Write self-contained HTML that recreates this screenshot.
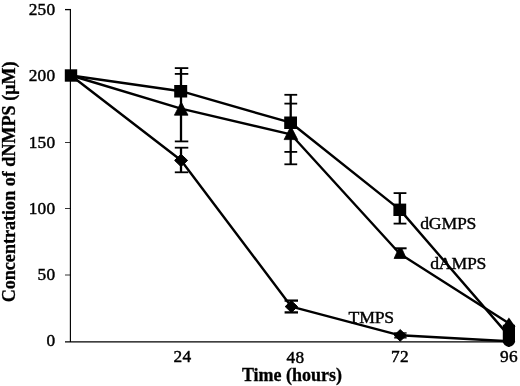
<!DOCTYPE html>
<html><head><meta charset="utf-8">
<style>
html,body{margin:0;padding:0;background:#fff;}
body{width:520px;height:386px;overflow:hidden;position:relative;font-family:"Liberation Serif",serif;}
svg{position:absolute;left:0;top:0;will-change:transform;}
text{font-family:"Liberation Serif",serif;fill:#000;}
.t{font-size:17.3px;letter-spacing:0.25px;stroke:#000;stroke-width:0.45px;}
.l{font-size:17.7px;letter-spacing:-0.2px;stroke:#000;stroke-width:0.4px;}
.b{font-size:18px;font-weight:bold;stroke:#000;stroke-width:0.3px;}
</style></head><body>
<svg width="520" height="386" viewBox="0 0 520 386">
<rect width="520" height="386" fill="#fff"/>
<!-- axes -->
<g stroke="#000" stroke-width="1.3" fill="none">
<line x1="70.4" y1="9" x2="70.4" y2="342" stroke-width="1.15"/>
<line x1="65" y1="341.8" x2="510" y2="341.8"/>
<line x1="65" y1="9.6" x2="71" y2="9.6"/>
<line x1="65" y1="76" x2="71" y2="76" stroke-width="0.8"/>
<line x1="65" y1="142.5" x2="71" y2="142.5" stroke-width="0.8"/>
<line x1="65" y1="208.5" x2="71" y2="208.5" stroke-width="0.8"/>
<line x1="65" y1="275" x2="71" y2="275" stroke-width="0.8"/>
</g>
<!-- series lines -->
<g stroke="#000" stroke-width="2.4" fill="none" stroke-linejoin="round">
<polyline points="71,75.5 181,91.2 290.8,122.7 399.8,209.6 508.8,335.6"/>
<polyline points="71,75.5 181,108.6 290.8,134.3 399.8,253.8 508.8,323.2"/>
<polyline points="71,75.5 181,160.2 291.4,306.7 400,335.3 508.8,341.3"/>
</g>
<!-- error bars -->
<g stroke="#000" stroke-width="1.8" fill="none">
<!-- 24 dGMPS / dAMPS -->
<line x1="181" y1="68" x2="181" y2="141.4" stroke-width="2.3"/>
<line x1="174.8" y1="68.1" x2="188.3" y2="68.1"/>
<line x1="174.8" y1="73.9" x2="188.3" y2="73.9"/>
<line x1="174.8" y1="141.4" x2="188.3" y2="141.4"/>
<!-- 24 TMPS -->
<line x1="181" y1="147.7" x2="181" y2="172.3" stroke-width="2.3"/>
<line x1="174.8" y1="147.7" x2="188.3" y2="147.7"/>
<line x1="174.8" y1="172.3" x2="188.3" y2="172.3"/>
<!-- 48 -->
<line x1="290.7" y1="94.4" x2="290.7" y2="164.3" stroke-width="2.3"/>
<line x1="284.4" y1="94.8" x2="297.2" y2="94.8"/>
<line x1="284.4" y1="103.6" x2="297.2" y2="103.6"/>
<line x1="284.4" y1="151.9" x2="297.2" y2="151.9"/>
<line x1="284.4" y1="164.3" x2="297.2" y2="164.3"/>
<!-- 48 TMPS -->
<line x1="291.4" y1="300.6" x2="291.4" y2="312.4" stroke-width="2.3"/>
<line x1="284.6" y1="300.6" x2="298" y2="300.6" stroke-width="2.3"/>
<line x1="284.6" y1="312.4" x2="298" y2="312.4" stroke-width="2.3"/>
<!-- 72 dGMPS -->
<line x1="399.8" y1="193.1" x2="399.8" y2="223.6" stroke-width="2.3"/>
<line x1="393.6" y1="193.1" x2="406.4" y2="193.1"/>
<line x1="393.6" y1="223.6" x2="406.4" y2="223.6"/>
<!-- 72 TMPS -->
<line x1="394.2" y1="333" x2="406.6" y2="333" stroke-width="1.4"/>
<line x1="394.2" y1="337.8" x2="406.6" y2="337.8" stroke-width="1.4"/>
<!-- 72 dAMPS -->
<line x1="399.8" y1="248.5" x2="399.8" y2="258" stroke-width="2.3"/>
<line x1="394.2" y1="248.3" x2="406.6" y2="248.3" stroke-width="2"/>
</g>
<!-- markers -->
<g fill="#000" stroke="none">
<!-- squares -->
<rect x="64.8" y="69.3" width="12.4" height="12.4"/>
<rect x="174.2" y="85" width="13" height="12.5"/>
<rect x="284.2" y="116.5" width="12.8" height="12.5"/>
<rect x="393.4" y="203.6" width="12.8" height="12.4"/>
<path d="M502.8,324.8 h12.2 v16.2 a6.1,5.8 0 0 1 -12.2,0 z"/>
<!-- triangles -->
<polygon points="181.2,102 188,115.2 174.4,115.2" stroke="#000" stroke-width="0.8" stroke-linejoin="round"/>
<polygon points="290.9,126.3 297.7,139.6 284.1,139.6" stroke="#000" stroke-width="0.8" stroke-linejoin="round"/>
<polygon points="398.6,248.5 401.8,248.5 406.3,258.5 394.1,258.5" stroke="#000" stroke-width="0.8" stroke-linejoin="round"/>
<polygon points="508.9,317.6 515.6,327 502.6,327"/>
<!-- diamonds -->
<polygon points="181,154.2 187.6,160.4 181,166.6 174.6,160.4" stroke="#000" stroke-width="1" stroke-linejoin="round"/>
<polygon points="291.4,300.8 297.6,306.6 291.4,312.4 285.2,306.6" stroke="#000" stroke-width="1" stroke-linejoin="round"/>
<polygon points="400.2,329.6 406.3,335.4 400.2,341.2 394.1,335.4" stroke="#000" stroke-width="1" stroke-linejoin="round"/>
<polygon points="508.8,336.3 514,341.3 508.8,345.8 503.6,341.3" stroke="#000" stroke-width="2.2" stroke-linejoin="round"/>
</g>
<!-- tick labels -->
<g class="t">
<text x="55.4" y="14.8" text-anchor="end">250</text>
<text x="55.4" y="81.2" text-anchor="end">200</text>
<text x="55.4" y="147.7" text-anchor="end">150</text>
<text x="55.4" y="213.7" text-anchor="end">100</text>
<text x="55.4" y="280.2" text-anchor="end">50</text>
<text x="55.4" y="346.2" text-anchor="end">0</text>
<text x="182.5" y="361.9" text-anchor="middle">24</text>
<text x="295.5" y="362.6" text-anchor="middle">48</text>
<text x="400" y="362" text-anchor="middle">72</text>
<text x="509" y="362.3" text-anchor="middle">96</text>
</g>
<g class="l">
<text x="420.2" y="228.6">dGMPS</text>
<text x="430.2" y="269.1">dAMPS</text>
<text x="348.6" y="323.3">TMPS</text>
</g>
<g class="b">
<text x="292" y="381" text-anchor="middle">Time (hours)</text>
<text transform="translate(15,181.9) rotate(-90)" text-anchor="middle" style="font-size:18.1px">Concentration of dNMPS (μM)</text>
</g>
</svg>
</body></html>
